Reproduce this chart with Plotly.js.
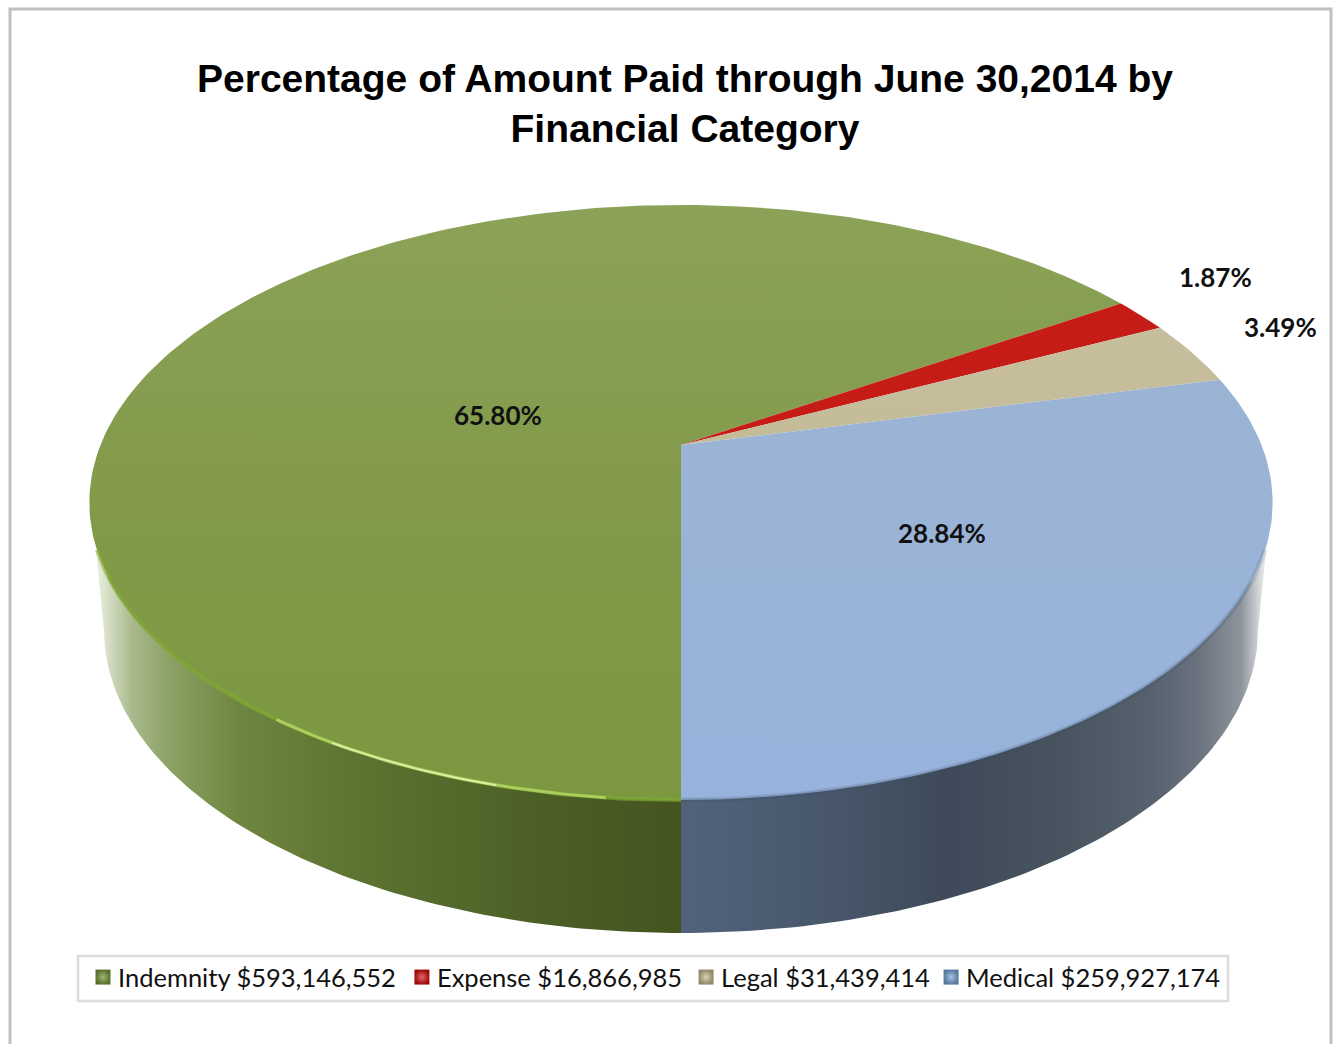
<!DOCTYPE html>
<html><head><meta charset="utf-8">
<script src="https://cdn.plot.ly/plotly-3.0.1.min.js"></script>
<style>html,body{margin:0;padding:0;background:#fff}#chart{width:1333px;height:1044px}</style>
</head><body><div id="chart"></div>
<script>
const categories = ["Indemnity", "Expense", "Legal", "Medical"];
const amounts = [593146552, 16866985, 31439414, 259927174];
const titleLines = ["Percentage of Amount Paid through June 30,2014 by", "Financial Category"];

const topColors = [
  [[0,"#7b9840"],[0.5,"#829a49"],[1,"#8ba258"]],
  [[0,"#c61c18"],[1,"#c61c18"]],
  [[0,"#c4bc99"],[1,"#c6be9c"]],
  [[0,"#98b3dc"],[1,"#9bb4d4"]]
];
const swatchColors = ["#56702a","#a00808","#8f8766","#54779f"];
const swatchEdges = ["#9db578","#e06a6a","#d9d2b4","#a9c3e2"];

// perspective projection of the pie's top disc, fitted to the picture
const cx = 681, apexY = 445, persp = 0.1933, depthK = -200.4, widthK = 580.5;
const project = deg => {
  const t = deg*Math.PI/180, u = Math.sin(t), v = Math.cos(t), w = 1 + persp*v;
  return [cx + widthK*u/w, (apexY + depthK*v)/w];
};
const topEll = {cy:502.5, rx:590, ry:296}, botEll = {cy:630, rx:577, ry:303};
const ell = (e,phi) => [cx + e.rx*Math.cos(phi*Math.PI/180), e.cy + e.ry*Math.sin(phi*Math.PI/180)];
const range = (a,b,n) => Array.from({length:n+1},(_,i)=>a+(b-a)*i/n);

const total = amounts.reduce((a,b)=>a+b,0);
const traces = [];

function wall(p0,p1,scale){
  const pts = range(p0,p1,90).map(p=>ell(topEll,p)).concat(range(p1,p0,90).map(p=>ell(botEll,p)));
  traces.push({type:"scatter",mode:"lines",x:pts.map(p=>p[0]),y:pts.map(p=>p[1]),fill:"toself",
    line:{width:0},showlegend:false,hoverinfo:"skip",
    fillgradient:{type:"horizontal",colorscale:scale}});
}
wall(180,90,[[0,"#f2f5ec"],[0.02,"#dfe6d0"],[0.07,"#a9b98c"],[0.14,"#8a9f62"],[0.25,"#6e8640"],[0.45,"#5c7331"],[0.75,"#4c6026"],[1,"#44541f"]]);
wall(90,0,[[0,"#52627a"],[0.2,"#4a5a6e"],[0.45,"#3e4a5a"],[0.65,"#48545f"],[0.8,"#56626e"],[0.88,"#6b737f"],[0.95,"#8f959d"],[0.985,"#dfe1e3"],[1,"#fbfbfb"]]);

let start = 180;
amounts.forEach((val,i)=>{
  const sweep = val/total*360;
  const pts = [[cx,apexY]].concat(range(start,start+sweep,Math.max(6,Math.ceil(sweep)))
    .map(project)); pts.push([cx,apexY]);
  traces.push({type:"scatter",mode:"lines",x:pts.map(p=>p[0]),y:pts.map(p=>p[1]),fill:"toself",
    line:{width:0},showlegend:false,hoverinfo:"text",text:categories[i],
    fillgradient:{type:"vertical",colorscale:topColors[i]}});
  start += sweep;
});

function rim(t0,t1,color,width){
  const pts = range(t0,t1,70).map(project);
  traces.push({type:"scatter",mode:"lines",x:pts.map(p=>p[0]),y:pts.map(p=>p[1]),
    line:{color:color,width:width},showlegend:false,hoverinfo:"skip"});
}
rim(180,250,"rgba(135,175,60,0.55)",4);
rim(180,245,"rgba(120,165,50,0.8)",2);
rim(186,216,"rgba(190,225,110,0.7)",3);
rim(195,210,"#d8ed9e",2);
rim(180,110,"rgba(60,75,100,0.14)",5);
rim(180,116,"rgba(60,75,100,0.18)",2.5);

categories.forEach((c,i)=>{
  traces.push({type:"scatter",mode:"markers",x:[null],y:[null],
    name:c+" $"+amounts[i].toLocaleString("en-US"),
    marker:{symbol:"square",size:15,color:swatchColors[i],gradient:{type:"radial",color:swatchEdges[i]},line:{width:0}}});
});

const labelPos = [[498,415],[1215,277],[1280,327],[942,533]];
const annotations = amounts.map((v,i)=>({x:labelPos[i][0],y:labelPos[i][1],xref:"x",yref:"y",showarrow:false,
  text:"<b>"+(v/total*100).toFixed(2)+"%</b>",font:{family:"Lato",size:26,color:"#111"},xanchor:"center",yanchor:"middle"}));

const layout = {
  width:1333,height:1044,margin:{l:0,r:0,t:0,b:0},paper_bgcolor:"#fff",plot_bgcolor:"#fff",
  title:{text:"<span style='font-size:39px'><b>"+titleLines[0]+"</b><br><b>"+titleLines[1]+"</b></span>",
    font:{family:"Liberation Sans",size:38.5,color:"#000"},x:685/1333,xanchor:"center",xref:"paper",y:1-92/1044,yanchor:"top"},
  xaxis:{range:[0,1333],visible:false,fixedrange:true},
  yaxis:{range:[1044,0],visible:false,fixedrange:true},
  shapes:[
    {type:"rect",xref:"x",yref:"y",x0:10,x1:1331,y0:9,y1:1070,line:{color:"#c0c0c0",width:3},layer:"below"},
    {type:"rect",xref:"x",yref:"y",x0:78,x1:1228,y0:956,y1:1001,line:{color:"#dcdcdc",width:2.5},layer:"below"}
  ],
  annotations:annotations,
  legend:{orientation:"h",x:77/1333,xanchor:"left",y:1-954/1044,yanchor:"top",borderwidth:0,bgcolor:"rgba(0,0,0,0)",
    font:{family:"Lato",size:25.5,color:"#111"},itemwidth:30,traceorder:"normal"},
  hovermode:false
};
const legendGapFix = [1,-3,-9,-18];
Plotly.newPlot("chart",traces,layout,{displayModeBar:false,staticPlot:true}).then(()=>{
  document.querySelectorAll(".legend .legendpoints").forEach(g=>g.setAttribute("transform","translate(5,0)"));
  document.querySelectorAll(".legend .traces").forEach((g,i)=>{
    const m = /translate\(\s*([-\d.]+)[ ,]+([-\d.]+)\s*\)/.exec(g.getAttribute("transform")||"");
    if(m) g.setAttribute("transform","translate("+(parseFloat(m[1])+legendGapFix[i])+","+m[2]+")");
  });
});
</script></body></html>
